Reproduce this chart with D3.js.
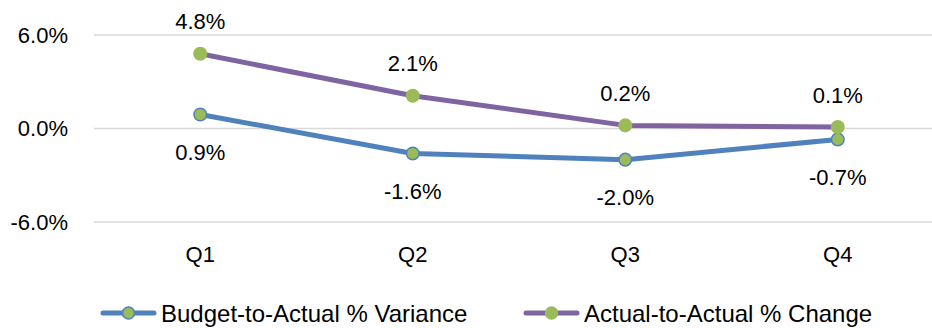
<!DOCTYPE html>
<html>
<head>
<meta charset="utf-8">
<script src="https://cdn.jsdelivr.net/npm/d3@7"></script>
<style>
  html, body { margin: 0; padding: 0; background: #fff; }
  svg { display: block; }
  text { font-family: "Liberation Sans", Arial, sans-serif; fill: #000; }
</style>
</head>
<body>
<svg id="chart" width="932" height="328"></svg>
<script>
// Quarterly figures, in percent
const quarters = ["Q1", "Q2", "Q3", "Q4"];
const budgetVariance = [0.9, -1.6, -2.0, -0.7];
const actualChange = [4.8, 2.1, 0.2, 0.1];
const yTicks = [-6, 0, 6];
const seriesNames = ["Budget-to-Actual % Variance", "Actual-to-Actual % Change"];

const svg = d3.select("#chart");
const plot = { left: 94, right: 944, top: 35, bottom: 222 };
const labelSize = 22;

const x = d3.scaleBand().domain(quarters).range([plot.left, plot.right]);
const y = d3.scaleLinear().domain([-6, 6]).range([plot.bottom, plot.top]);
const fmt = v => v.toFixed(1) + "%";

const series = [
  { name: seriesNames[0], values: budgetVariance, line: "#4F81BD", fill: "#9BBB59", stroke: "#4F81BD", labelDy: 38 },
  { name: seriesNames[1], values: actualChange, line: "#8064A2", fill: "#9BBB59", stroke: "#9BBB59", labelDy: -32 }
];

// Gridlines
svg.append("g")
  .selectAll("line")
  .data(yTicks)
  .join("line")
  .attr("x1", plot.left).attr("x2", plot.right)
  .attr("y1", d => y(d)).attr("y2", d => y(d))
  .attr("stroke", "#D9D9D9").attr("stroke-width", 1.5);

// Y axis labels
const yAxis = d3.axisLeft(y).tickValues(yTicks).tickFormat(fmt).tickSize(0).tickPadding(26);
const gy = svg.append("g").attr("transform", `translate(${plot.left},0)`).call(yAxis);
gy.select(".domain").remove();
gy.selectAll("text").attr("font-size", labelSize).attr("font-family", "Liberation Sans, Arial, sans-serif").attr("fill", "#000");

// X axis labels
const xAxis = d3.axisBottom(x).tickSize(0).tickPadding(24);
const gx = svg.append("g").attr("transform", `translate(0,${plot.bottom})`).call(xAxis);
gx.select(".domain").remove();
gx.selectAll("text").attr("font-size", labelSize).attr("font-family", "Liberation Sans, Arial, sans-serif").attr("fill", "#000");

const cx = q => x(q) + x.bandwidth() / 2;
const line = d3.line().x((d, i) => cx(quarters[i])).y(d => y(d));

series.forEach(s => {
  const g = svg.append("g");
  g.append("path")
    .attr("d", line(s.values))
    .attr("fill", "none")
    .attr("stroke", s.line)
    .attr("stroke-width", 5)
    .attr("stroke-linejoin", "round");
  g.selectAll("circle")
    .data(s.values)
    .join("circle")
    .attr("cx", (d, i) => cx(quarters[i]))
    .attr("cy", d => y(d))
    .attr("r", 6.3)
    .attr("fill", s.fill)
    .attr("stroke", s.stroke)
    .attr("stroke-width", 1.5);
  g.selectAll("text")
    .data(s.values)
    .join("text")
    .attr("x", (d, i) => cx(quarters[i]))
    .attr("y", d => y(d) + s.labelDy)
    .attr("dy", "0.35em")
    .attr("text-anchor", "middle")
    .attr("font-size", labelSize)
    .text(fmt);
});

// Legend
const legendItems = [
  { s: series[0], x0: 101, tx: 161 },
  { s: series[1], x0: 524, tx: 584 }
];
const ly = 313;
const lg = svg.append("g");
legendItems.forEach(it => {
  lg.append("line")
    .attr("x1", it.x0 + 2).attr("x2", it.x0 + 53)
    .attr("y1", ly).attr("y2", ly)
    .attr("stroke", it.s.line).attr("stroke-width", 5).attr("stroke-linecap", "round");
  lg.append("circle")
    .attr("cx", it.x0 + 27.5).attr("cy", ly).attr("r", 6)
    .attr("fill", it.s.fill).attr("stroke", it.s.stroke).attr("stroke-width", 1.5);
  lg.append("text")
    .attr("x", it.tx).attr("y", ly).attr("dy", "0.36em")
    .attr("font-size", 24)
    .text(it.s.name);
});
</script>
</body>
</html>
